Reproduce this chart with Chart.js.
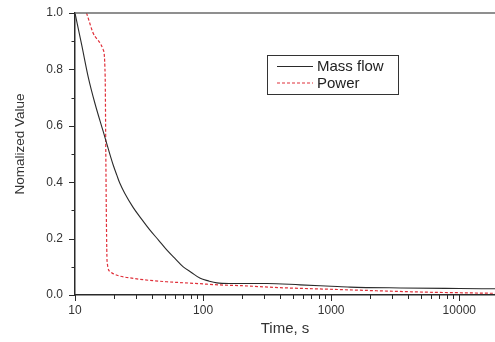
<!DOCTYPE html>
<html>
<head>
<meta charset="utf-8">
<script src="https://cdn.jsdelivr.net/npm/chart.js@4/dist/chart.umd.min.js"></script>
<style>
html,body{margin:0;padding:0;background:#fff;}
#c{display:block;}
</style>
</head>
<body>
<canvas id="c" width="495" height="342"></canvas>
<script>
// ---- data ----
const massFlowTime  = [10, 11.3, 12.7, 14.3, 16.6, 18.8, 19.9, 21.2, 22.4, 24.5, 28.5, 33, 38.5, 45, 52, 60, 70, 81, 95, 110, 128, 160, 200, 315, 573, 1000, 1400, 3470, 10000, 19000];
const massFlowValue = [1.0, 0.885, 0.772, 0.680, 0.580, 0.496, 0.460, 0.425, 0.396, 0.360, 0.310, 0.270, 0.230, 0.194, 0.160, 0.131, 0.100, 0.080, 0.059, 0.050, 0.043, 0.041, 0.041, 0.041, 0.036, 0.031, 0.028, 0.025, 0.023, 0.022];
const powerTime  = [12.3, 14.3, 16.6, 17.2, 17.4, 17.6, 17.8, 18.8, 20, 22.4, 28.5, 38, 52, 95, 131, 200, 400, 1040, 2720, 5600, 10000, 19000];
const powerValue = [1.0, 0.917, 0.87, 0.774, 0.50, 0.25, 0.12, 0.083, 0.075, 0.067, 0.059, 0.052, 0.047, 0.040, 0.036, 0.033, 0.026, 0.020, 0.014, 0.010, 0.008, 0.006];
const xTickValues = [10, 100, 1000, 10000];
const xMinorValues = [20,30,40,50,60,70,80,90,200,300,400,500,600,700,800,900,2000,3000,4000,5000,6000,7000,8000,9000];
const yTickValues = [0, 0.2, 0.4, 0.6, 0.8, 1.0];
const yMinorValues = [0.1, 0.3, 0.5, 0.7, 0.9];
const seriesNames = ['Mass flow', 'Power'];
const xTitle = 'Time, s';
const yTitle = 'Nomalized Value';

const toPts = (xs, ys) => xs.map((x, i) => ({x: x, y: ys[i]}));

const FONT = '"Liberation Sans", Arial, sans-serif';
const BLACK = '#2a2a2a';
const RED = '#e0303a';

const decor = {
  id: 'decor',
  afterDraw(chart) {
    const ctx = chart.ctx;
    const a = chart.chartArea;
    const xs = chart.scales.x, ys = chart.scales.y;
    ctx.save();
    // top frame line
    ctx.strokeStyle = '#6a6a6a';
    ctx.lineWidth = 1.5;
    ctx.beginPath();
    ctx.moveTo(a.left, a.top);
    ctx.lineTo(a.right, a.top);
    ctx.stroke();
    // tick marks
    ctx.strokeStyle = BLACK;
    ctx.lineWidth = 1;
    ctx.beginPath();
    yTickValues.forEach(v => { const p = Math.round(ys.getPixelForValue(v)) + 0.5; ctx.moveTo(a.left - 6, p); ctx.lineTo(a.left, p); });
    yMinorValues.forEach(v => { const p = Math.round(ys.getPixelForValue(v)) + 0.5; ctx.moveTo(a.left - 3.5, p); ctx.lineTo(a.left, p); });
    xTickValues.forEach(v => { const p = Math.round(xs.getPixelForValue(v)) + 0.5; ctx.moveTo(p, a.bottom); ctx.lineTo(p, a.bottom + 6); });
    xMinorValues.forEach(v => { const p = Math.round(xs.getPixelForValue(v)) + 0.5; ctx.moveTo(p, a.bottom); ctx.lineTo(p, a.bottom + 4); });
    ctx.stroke();
    // y title (rotated text)
    ctx.save();
    ctx.translate(20, 144);
    ctx.rotate(-Math.PI / 2);
    ctx.fillStyle = '#333';
    ctx.font = '13.5px ' + FONT;
    ctx.textAlign = 'center';
    ctx.textBaseline = 'middle';
    ctx.fillText(yTitle, 0, 0);
    ctx.restore();
    // legend box
    const bx = 267, by = 55, bw = 131, bh = 39;
    ctx.fillStyle = '#fff';
    ctx.fillRect(bx, by, bw, bh);
    ctx.strokeStyle = '#333';
    ctx.lineWidth = 1;
    ctx.strokeRect(bx + 0.5, by + 0.5, bw, bh);
    const items = chart.data.datasets;
    const rows = [66.5, 83];
    items.forEach((ds, i) => {
      ctx.strokeStyle = ds.borderColor;
      ctx.lineWidth = ds.borderWidth;
      ctx.setLineDash(ds.borderDash || []);
      ctx.beginPath();
      ctx.moveTo(277, rows[i]);
      ctx.lineTo(313, rows[i]);
      ctx.stroke();
      ctx.setLineDash([]);
      ctx.fillStyle = '#222';
      ctx.font = '15px ' + FONT;
      ctx.textBaseline = 'middle';
      ctx.textAlign = 'left';
      ctx.fillText(ds.label, 317, rows[i] + 0.5);
    });
    ctx.restore();
  }
};

new Chart(document.getElementById('c'), {
  type: 'line',
  data: {
    datasets: [
      {
        label: seriesNames[0],
        data: toPts(massFlowTime, massFlowValue),
        borderColor: BLACK,
        borderWidth: 1.1,
        pointRadius: 0,
        cubicInterpolationMode: 'monotone',
        fill: false
      },
      {
        label: seriesNames[1],
        data: toPts(powerTime, powerValue),
        borderColor: RED,
        borderWidth: 1.2,
        borderDash: [3, 2],
        pointRadius: 0,
        cubicInterpolationMode: 'monotone',
        fill: false
      }
    ]
  },
  options: {
    responsive: false,
    animation: false,
    devicePixelRatio: 1,
    layout: { padding: { top: 13, right: 0, left: 0, bottom: 0 } },
    plugins: { legend: { display: false }, tooltip: { enabled: false } },
    scales: {
      x: {
        type: 'logarithmic',
        min: 10,
        max: 19000,
        grid: { display: false },
        border: { display: true, color: BLACK, width: 1.5 },
        afterBuildTicks: s => { s.ticks = xTickValues.map(v => ({ value: v })); },
        afterFit: s => { s.height = 47; },
        ticks: {
          padding: 0,
          color: '#333',
          font: { family: FONT, size: 12 },
          maxRotation: 0,
          autoSkip: false,
          callback: v => String(v)
        },
        title: {
          display: true,
          text: xTitle,
          color: '#333',
          font: { family: FONT, size: 15 },
          padding: { top: 0, bottom: 4 }
        }
      },
      y: {
        min: 0,
        max: 1,
        grid: { display: false },
        border: { display: true, color: BLACK, width: 1.5 },
        afterBuildTicks: s => { s.ticks = yTickValues.map(v => ({ value: v })); },
        afterFit: s => { s.width = 75; },
        ticks: {
          padding: 4,
          color: '#333',
          font: { family: FONT, size: 12 },
          callback: v => Number(v).toFixed(1)
        },
        title: { display: false }
      }
    }
  },
  plugins: [decor]
});
</script>
</body>
</html>
